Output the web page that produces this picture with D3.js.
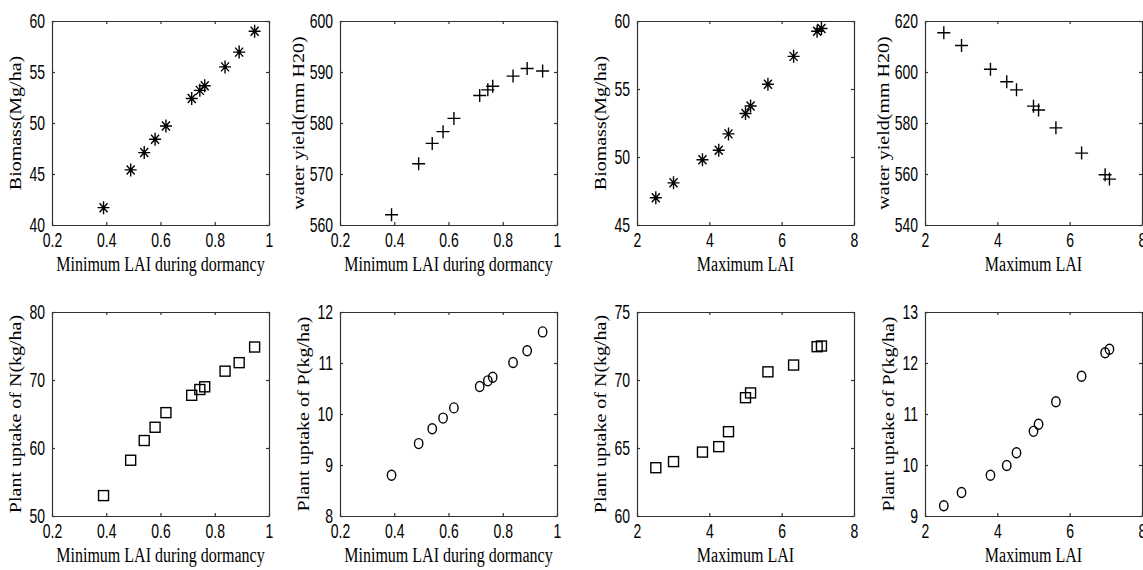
<!DOCTYPE html>
<html>
<head>
<meta charset="utf-8">
<script src="https://cdn.jsdelivr.net/npm/d3@7"></script>
<style>
  html, body { margin: 0; padding: 0; background: #fff; }
  svg { display: block; }
</style>
</head>
<body>
<svg id="fig" width="1143" height="570"></svg>
<script>
// Sensitivity of simulated outputs to minimum LAI (dormancy) and maximum LAI
const minLAI = [0.39, 0.49, 0.54, 0.58, 0.62, 0.715, 0.745, 0.763, 0.838, 0.89, 0.947];
const maxLAI = [2.52, 3.01, 3.81, 4.26, 4.53, 5.0, 5.14, 5.62, 6.33, 6.98, 7.1];

const biomassMin = [41.7, 45.4, 47.1, 48.4, 49.7, 52.4, 53.2, 53.65, 55.5, 56.95, 59.0];
const waterMin   = [562.0, 572.0, 576.0, 578.3, 580.9, 585.4, 586.5, 587.2, 589.2, 590.7, 590.2];
const biomassMax = [47.0, 48.1, 49.8, 50.5, 51.7, 53.2, 53.75, 55.35, 57.4, 59.25, 59.45];
const waterMax   = [615.4, 610.4, 601.1, 596.2, 593.0, 586.6, 585.1, 578.1, 568.2, 559.7, 558.0];
const nUptakeMin = [53.0, 58.2, 61.1, 63.05, 65.2, 67.75, 68.6, 69.0, 71.3, 72.55, 74.85];
const pUptakeMin = [8.8, 9.42, 9.71, 9.92, 10.12, 10.54, 10.65, 10.72, 11.01, 11.24, 11.61];
const nUptakeMax = [63.55, 64.0, 64.7, 65.1, 66.2, 68.7, 69.05, 70.6, 71.1, 72.45, 72.5];
const pUptakeMax = [9.2, 9.46, 9.8, 9.99, 10.24, 10.66, 10.8, 11.24, 11.74, 12.2, 12.27];

// Tick values
const minLAITicks = [0.2, 0.4, 0.6, 0.8, 1];
const maxLAITicks = [2, 4, 6, 8];
const biomassMinTicks = [40, 45, 50, 55, 60];
const waterMinTicks = [560, 570, 580, 590, 600];
const biomassMaxTicks = [45, 50, 55, 60];
const waterMaxTicks = [540, 560, 580, 600, 620];
const nMinTicks = [50, 60, 70, 80];
const pMinTicks = [8, 9, 10, 11, 12];
const nMaxTicks = [60, 65, 70, 75];
const pMaxTicks = [9, 10, 11, 12, 13];

const xLabelMin = "Minimum LAI during dormancy";
const xLabelMax = "Maximum LAI";

// Subplot grid
const colLeft = [52, 340, 637, 925];
const rowTop = [21, 312];
const panelW = 217, panelH = 204;

const panels = [
  { row: 0, col: 0, x: minLAI, y: biomassMin, xt: minLAITicks, yt: biomassMinTicks, xl: xLabelMin, yl: "Biomass(Mg/ha)", m: "star" },
  { row: 0, col: 1, x: minLAI, y: waterMin,   xt: minLAITicks, yt: waterMinTicks,   xl: xLabelMin, yl: "water yield(mm H20)", m: "plus" },
  { row: 0, col: 2, x: maxLAI, y: biomassMax, xt: maxLAITicks, yt: biomassMaxTicks, xl: xLabelMax, yl: "Biomass(Mg/ha)", m: "star" },
  { row: 0, col: 3, x: maxLAI, y: waterMax,   xt: maxLAITicks, yt: waterMaxTicks,   xl: xLabelMax, yl: "water yield(mm H20)", m: "plus" },
  { row: 1, col: 0, x: minLAI, y: nUptakeMin, xt: minLAITicks, yt: nMinTicks, xl: xLabelMin, yl: "Plant uptake of N(kg/ha)", m: "square" },
  { row: 1, col: 1, x: minLAI, y: pUptakeMin, xt: minLAITicks, yt: pMinTicks, xl: xLabelMin, yl: "Plant uptake of P(kg/ha)", m: "circle" },
  { row: 1, col: 2, x: maxLAI, y: nUptakeMax, xt: maxLAITicks, yt: nMaxTicks, xl: xLabelMax, yl: "Plant uptake of N(kg/ha)", m: "square" },
  { row: 1, col: 3, x: maxLAI, y: pUptakeMax, xt: maxLAITicks, yt: pMaxTicks, xl: xLabelMax, yl: "Plant uptake of P(kg/ha)", m: "circle" }
];

const svg = d3.select("#fig");
const tickFont = "'Liberation Sans', Arial, sans-serif";
const labelFont = "'Liberation Serif', 'Times New Roman', serif";
const tickScaleX = 0.7, labelScaleX = 0.8;
const axisColor = "#333";

const markerPaths = {
  star: "M-6,0H6M0,-6.5V6.5M-4,-4.5L4,4.5M-4,4.5L4,-4.5",
  plus: "M-6.5,0H6.5M0,-6.5V6.5"
};

panels.forEach(p => {
  const left = colLeft[p.col], top = rowTop[p.row];
  const x = d3.scaleLinear().domain(d3.extent(p.xt)).range([0, panelW]);
  const y = d3.scaleLinear().domain(d3.extent(p.yt)).range([panelH, 0]);
  const g = svg.append("g").attr("transform", `translate(${left},${top})`);

  // Axes on all four sides with inward ticks
  const fmt = d => String(d);
  const bottom = g.append("g").attr("transform", `translate(0,${panelH})`)
    .call(d3.axisBottom(x).tickValues(p.xt).tickFormat(fmt).tickSizeInner(-3).tickSizeOuter(0).tickPadding(8));
  const leftAx = g.append("g")
    .call(d3.axisLeft(y).tickValues(p.yt).tickFormat(fmt).tickSizeInner(-3).tickSizeOuter(0).tickPadding(7));
  g.append("g")
    .call(d3.axisTop(x).tickValues(p.xt).tickFormat("").tickSizeInner(-3).tickSizeOuter(0));
  g.append("g").attr("transform", `translate(${panelW},0)`)
    .call(d3.axisRight(y).tickValues(p.yt).tickFormat("").tickSizeInner(-3).tickSizeOuter(0));

  g.selectAll(".domain").attr("stroke", axisColor).attr("stroke-width", 1.2);
  g.selectAll(".tick line").attr("stroke", axisColor).attr("stroke-width", 1.2);

  bottom.selectAll(".tick text")
    .attr("font-family", tickFont).attr("font-size", 20).attr("fill", "#000")
    .attr("transform", `scale(${tickScaleX},1)`);
  leftAx.selectAll(".tick text")
    .attr("font-family", tickFont).attr("font-size", 20).attr("fill", "#000")
    .attr("x", -7 / tickScaleX)
    .attr("transform", `scale(${tickScaleX},1)`);

  // Axis titles
  g.append("text")
    .attr("transform", `translate(${panelW / 2},${panelH + 46}) scale(${labelScaleX},1)`)
    .attr("text-anchor", "middle")
    .attr("font-family", labelFont).attr("font-size", 20).attr("fill", "#000")
    .text(p.xl);

  const maxLen = d3.max(p.yt, d => String(d).length);
  const yLabX = maxLen >= 3 ? -36 : -31;
  g.append("text")
    .attr("transform", `translate(${yLabX},${panelH / 2}) scale(${labelScaleX},1) rotate(-90)`)
    .attr("text-anchor", "middle")
    .attr("font-family", labelFont).attr("font-size", 20).attr("fill", "#000")
    .text(p.yl);

  // Data markers
  const pts = p.x.map((v, i) => [v, p.y[i]]);
  const mg = g.append("g").attr("fill", "none").attr("stroke", "#000").attr("stroke-width", 1.4);
  if (p.m === "star" || p.m === "plus") {
    mg.selectAll("path").data(pts).join("path")
      .attr("transform", d => `translate(${x(d[0])},${y(d[1])})`)
      .attr("d", markerPaths[p.m]);
    if (p.m === "star") {
      mg.selectAll("circle").data(pts).join("circle")
        .attr("cx", d => x(d[0])).attr("cy", d => y(d[1])).attr("r", 1.6)
        .attr("fill", "#000").attr("stroke", "none");
    }
  } else if (p.m === "square") {
    mg.selectAll("rect").data(pts).join("rect")
      .attr("x", d => x(d[0]) - 5).attr("y", d => y(d[1]) - 5)
      .attr("width", 10).attr("height", 10);
  } else {
    mg.selectAll("ellipse").data(pts).join("ellipse")
      .attr("cx", d => x(d[0])).attr("cy", d => y(d[1]))
      .attr("rx", 4.2).attr("ry", 5);
  }
});
</script>
</body>
</html>
